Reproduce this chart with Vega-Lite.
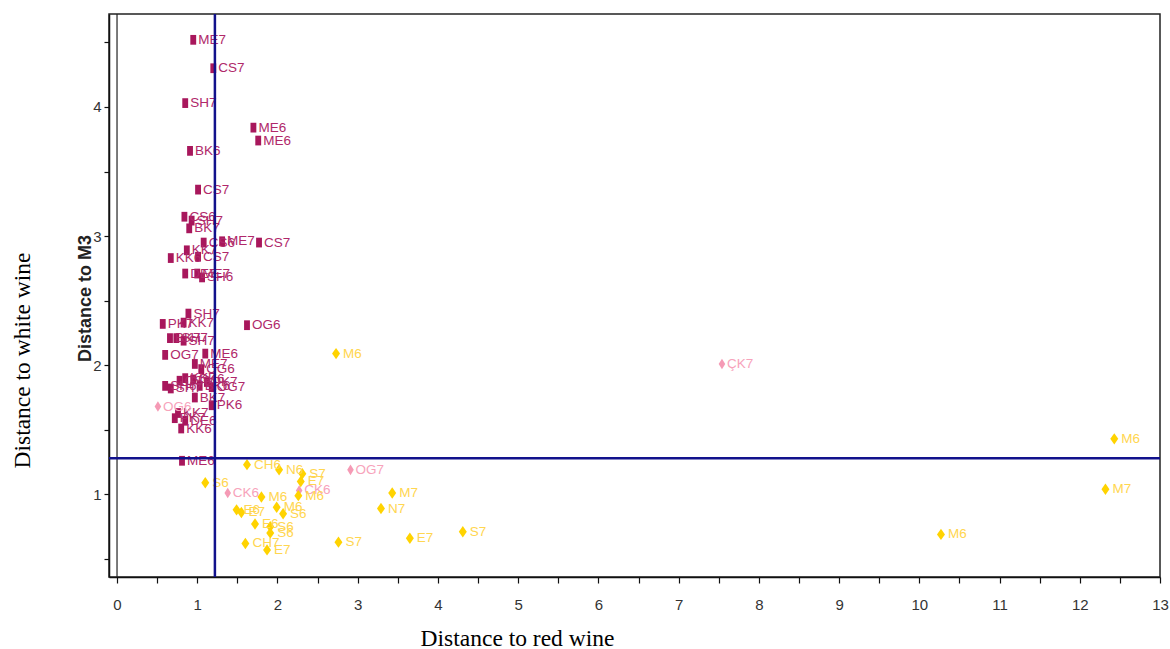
{
  "$schema": "https://vega.github.io/schema/vega-lite/v6.json",
  "width": 1051,
  "height": 563,
  "autosize": {"type": "none"},
  "padding": {"left": 109, "top": 14, "right": 10, "bottom": 72},
  "background": "white",
  "config": {
    "view": {"stroke": "#222", "strokeWidth": 1.5},
    "axis": {"grid": false}
  },
  "datasets": {
    "pts": [
      {"x": 0.95, "y": 4.52, "label": "ME7", "type": "red"},
      {"x": 1.20, "y": 4.30, "label": "CS7", "type": "red"},
      {"x": 0.85, "y": 4.03, "label": "SH7", "type": "red"},
      {"x": 1.70, "y": 3.84, "label": "ME6", "type": "red"},
      {"x": 1.76, "y": 3.74, "label": "ME6", "type": "red"},
      {"x": 0.91, "y": 3.66, "label": "BK6", "type": "red"},
      {"x": 1.01, "y": 3.36, "label": "CS7", "type": "red"},
      {"x": 0.84, "y": 3.15, "label": "CS6", "type": "red"},
      {"x": 0.93, "y": 3.12, "label": "SH7", "type": "red"},
      {"x": 0.90, "y": 3.06, "label": "BK7", "type": "red"},
      {"x": 1.08, "y": 2.95, "label": "CS6", "type": "red"},
      {"x": 1.31, "y": 2.96, "label": "ME7", "type": "red"},
      {"x": 1.77, "y": 2.95, "label": "CS7", "type": "red"},
      {"x": 0.87, "y": 2.89, "label": "KK7", "type": "red"},
      {"x": 0.67, "y": 2.83, "label": "KK6", "type": "red"},
      {"x": 1.01, "y": 2.84, "label": "CS7", "type": "red"},
      {"x": 0.85, "y": 2.71, "label": "DE7", "type": "red"},
      {"x": 1.00, "y": 2.71, "label": "ME7", "type": "red"},
      {"x": 1.06, "y": 2.68, "label": "SH6", "type": "red"},
      {"x": 0.89, "y": 2.40, "label": "SH7", "type": "red"},
      {"x": 0.57, "y": 2.32, "label": "PK7", "type": "red"},
      {"x": 0.83, "y": 2.33, "label": "KK7", "type": "red"},
      {"x": 1.62, "y": 2.31, "label": "OG6", "type": "red"},
      {"x": 0.74, "y": 2.21, "label": "SH7", "type": "red"},
      {"x": 0.66, "y": 2.21, "label": "BK7", "type": "red"},
      {"x": 0.83, "y": 2.19, "label": "SH7", "type": "red"},
      {"x": 0.60, "y": 2.08, "label": "OG7", "type": "red"},
      {"x": 1.10, "y": 2.09, "label": "ME6", "type": "red"},
      {"x": 1.05, "y": 1.97, "label": "OG6", "type": "red"},
      {"x": 0.97, "y": 2.01, "label": "ME7", "type": "red"},
      {"x": 0.60, "y": 1.84, "label": "SH6", "type": "red"},
      {"x": 0.67, "y": 1.82, "label": "SH7", "type": "red"},
      {"x": 0.78, "y": 1.88, "label": "CS6", "type": "red"},
      {"x": 0.85, "y": 1.90, "label": "KK7", "type": "red"},
      {"x": 0.95, "y": 1.89, "label": "CK6", "type": "red"},
      {"x": 1.03, "y": 1.84, "label": "BK6", "type": "red"},
      {"x": 1.12, "y": 1.87, "label": "PK7", "type": "red"},
      {"x": 1.18, "y": 1.83, "label": "OG7", "type": "red"},
      {"x": 0.97, "y": 1.75, "label": "BK7", "type": "red"},
      {"x": 1.18, "y": 1.69, "label": "PK6", "type": "red"},
      {"x": 0.76, "y": 1.63, "label": "KK7", "type": "red"},
      {"x": 0.72, "y": 1.59, "label": "PK7", "type": "red"},
      {"x": 0.85, "y": 1.57, "label": "DE6", "type": "red"},
      {"x": 0.80, "y": 1.51, "label": "KK6", "type": "red"},
      {"x": 0.81, "y": 1.26, "label": "ME6", "type": "red"},
      {"x": 0.51, "y": 1.68, "label": "OG6", "type": "pink"},
      {"x": 7.54, "y": 2.01, "label": "ÇK7", "type": "pink"},
      {"x": 2.91, "y": 1.19, "label": "OG7", "type": "pink"},
      {"x": 1.38, "y": 1.01, "label": "CK6", "type": "pink"},
      {"x": 2.27, "y": 1.03, "label": "CK6", "type": "pink"},
      {"x": 2.73, "y": 2.09, "label": "M6", "type": "white"},
      {"x": 12.43, "y": 1.43, "label": "M6", "type": "white"},
      {"x": 12.32, "y": 1.04, "label": "M7", "type": "white"},
      {"x": 10.27, "y": 0.69, "label": "M6", "type": "white"},
      {"x": 4.31, "y": 0.71, "label": "S7", "type": "white"},
      {"x": 3.65, "y": 0.66, "label": "E7", "type": "white"},
      {"x": 3.43, "y": 1.01, "label": "M7", "type": "white"},
      {"x": 3.29, "y": 0.89, "label": "N7", "type": "white"},
      {"x": 2.76, "y": 0.63, "label": "S7", "type": "white"},
      {"x": 1.62, "y": 1.23, "label": "CH6", "type": "white"},
      {"x": 2.02, "y": 1.19, "label": "N6", "type": "white"},
      {"x": 2.31, "y": 1.16, "label": "S7", "type": "white"},
      {"x": 1.10, "y": 1.09, "label": "S6", "type": "white"},
      {"x": 2.29, "y": 1.10, "label": "E7", "type": "white"},
      {"x": 2.26, "y": 0.99, "label": "M6", "type": "white"},
      {"x": 1.80, "y": 0.98, "label": "M6", "type": "white"},
      {"x": 1.49, "y": 0.88, "label": "E6", "type": "white"},
      {"x": 1.55, "y": 0.86, "label": "E7", "type": "white"},
      {"x": 1.99, "y": 0.90, "label": "M6", "type": "white"},
      {"x": 2.07, "y": 0.85, "label": "S6", "type": "white"},
      {"x": 1.72, "y": 0.77, "label": "E6", "type": "white"},
      {"x": 1.91, "y": 0.75, "label": "S6", "type": "white"},
      {"x": 1.91, "y": 0.70, "label": "S6", "type": "white"},
      {"x": 1.60, "y": 0.62, "label": "CH7", "type": "white"},
      {"x": 1.87, "y": 0.57, "label": "E7", "type": "white"}
    ],
    "vlines": [
      {"v": 0, "kind": "zero"},
      {"v": 1.22, "kind": "cut"}
    ],
    "hlines": [
      {"v": 1.28, "kind": "cut"}
    ]
  },
  "resolve": {"scale": {"y": "independent"}, "axis": {"y": "independent"}},
  "layer": [
    {
      "data": {"name": "vlines"},
      "transform": [{"filter": "datum.kind === 'zero'"}],
      "mark": {"type": "rule", "color": "#222222", "strokeWidth": 1.2},
      "encoding": {
        "x": {"field": "v", "type": "quantitative", "scale": {"domain": [-0.1, 13], "nice": false, "zero": false}}
      }
    },
    {
      "data": {"name": "pts"},
      "mark": {"type": "point", "filled": true, "opacity": 1, "strokeWidth": 0},
      "encoding": {
        "x": {
          "field": "x", "type": "quantitative",
          "scale": {"domain": [-0.1, 13], "nice": false, "zero": false},
          "axis": {
            "values": [0, 0.5, 1, 1.5, 2, 2.5, 3, 3.5, 4, 4.5, 5, 5.5, 6, 6.5, 7, 7.5, 8, 8.5, 9, 9.5, 10, 10.5, 11, 11.5, 12, 12.5, 13],
            "labelExpr": "datum.value % 1 === 0 ? format(datum.value, 'd') : ''",
            "labelOverlap": false, "labelFlush": false,
            "tickSize": 6, "tickColor": "#111", "tickWidth": 1.2,
            "domainColor": "#111", "domainWidth": 1.5,
            "labelFont": "Liberation Sans", "labelFontSize": 15, "labelColor": "#333",
            "labelPadding": 14,
            "title": "Distance to red wine",
            "titleFont": "Liberation Serif", "titleFontSize": 23.5, "titleFontWeight": "normal", "titleColor": "#000",
            "titleX": 408, "titleY": 61, "titleBaseline": "middle", "titleAlign": "center"
          }
        },
        "y": {
          "field": "y", "type": "quantitative",
          "scale": {"domain": [0.36, 4.72], "nice": false, "zero": false},
          "axis": {
            "values": [0.5, 1, 1.5, 2, 2.5, 3, 3.5, 4, 4.5],
            "labelExpr": "datum.value % 1 === 0 ? format(datum.value, 'd') : ''",
            "labelOverlap": false, "labelFlush": false,
            "tickSize": 5, "tickColor": "#111", "tickWidth": 1.2,
            "domainColor": "#111", "domainWidth": 1.5,
            "labelFont": "Liberation Sans", "labelFontSize": 15, "labelColor": "#333",
            "labelPadding": 3,
            "title": "Distance to M3",
            "titleFont": "Liberation Sans", "titleFontSize": 18, "titleFontWeight": "bold", "titleColor": "#222",
            "titleX": -24, "titleY": 284, "titleBaseline": "middle", "titleAlign": "center", "titleAngle": 270
          }
        },
        "shape": {
          "field": "type", "type": "nominal",
          "scale": {"domain": ["red", "pink", "white"], "range": ["M-0.6,-1H0.6V1H-0.6Z", "M0,-1L0.62,0L0,1L-0.62,0Z", "M0,-1L0.7,0L0,1L-0.7,0Z"]},
          "legend": null
        },
        "size": {
          "field": "type", "type": "nominal",
          "scale": {"domain": ["red", "pink", "white"], "range": [95, 130, 320]},
          "legend": null
        },
        "color": {
          "field": "type", "type": "nominal",
          "scale": {"domain": ["red", "pink", "white"], "range": ["#A8175C", "#F59AB5", "#FFD300"]},
          "legend": null
        }
      }
    },
    {
      "data": {"name": "pts"},
      "transform": [{"filter": "datum.type === 'red'"}],
      "mark": {"type": "text", "align": "left", "baseline": "middle", "dx": 5, "font": "Liberation Sans", "fontSize": 13.5, "color": "#B0286A"},
      "encoding": {
        "x": {"field": "x", "type": "quantitative", "scale": {"domain": [-0.1, 13], "nice": false, "zero": false}},
        "y": {"field": "y", "type": "quantitative", "scale": {"domain": [0.36, 4.72], "nice": false, "zero": false}, "axis": null},
        "text": {"field": "label"}
      }
    },
    {
      "data": {"name": "pts"},
      "transform": [{"filter": "datum.type === 'pink'"}],
      "mark": {"type": "text", "align": "left", "baseline": "middle", "dx": 5, "font": "Liberation Sans", "fontSize": 13.5, "color": "#F7A3BB"},
      "encoding": {
        "x": {"field": "x", "type": "quantitative", "scale": {"domain": [-0.1, 13], "nice": false, "zero": false}},
        "y": {"field": "y", "type": "quantitative", "scale": {"domain": [0.36, 4.72], "nice": false, "zero": false}, "axis": null},
        "text": {"field": "label"}
      }
    },
    {
      "data": {"name": "pts"},
      "transform": [{"filter": "datum.type === 'white'"}],
      "mark": {"type": "text", "align": "left", "baseline": "middle", "dx": 7, "font": "Liberation Sans", "fontSize": 13.5, "color": "#FFD650"},
      "encoding": {
        "x": {"field": "x", "type": "quantitative", "scale": {"domain": [-0.1, 13], "nice": false, "zero": false}},
        "y": {"field": "y", "type": "quantitative", "scale": {"domain": [0.36, 4.72], "nice": false, "zero": false}, "axis": null},
        "text": {"field": "label"}
      }
    },
    {
      "data": {"name": "vlines"},
      "transform": [{"filter": "datum.kind === 'cut'"}],
      "mark": {"type": "rule", "color": "#11118C", "strokeWidth": 2.5},
      "encoding": {
        "x": {"field": "v", "type": "quantitative", "scale": {"domain": [-0.1, 13], "nice": false, "zero": false}}
      }
    },
    {
      "data": {"name": "hlines"},
      "mark": {"type": "rule", "color": "#11118C", "strokeWidth": 2.5},
      "encoding": {
        "y": {
          "field": "v", "type": "quantitative",
          "scale": {"domain": [0.36, 4.72], "nice": false, "zero": false},
          "axis": {
            "orient": "left", "labels": false, "ticks": false, "domain": false,
            "title": "Distance to white wine",
            "titleFont": "Liberation Serif", "titleFontSize": 23.5, "titleFontWeight": "normal", "titleColor": "#000",
            "titleX": -87, "titleY": 346, "titleBaseline": "middle", "titleAlign": "center", "titleAngle": 270
          }
        }
      }
    }
  ]
}
